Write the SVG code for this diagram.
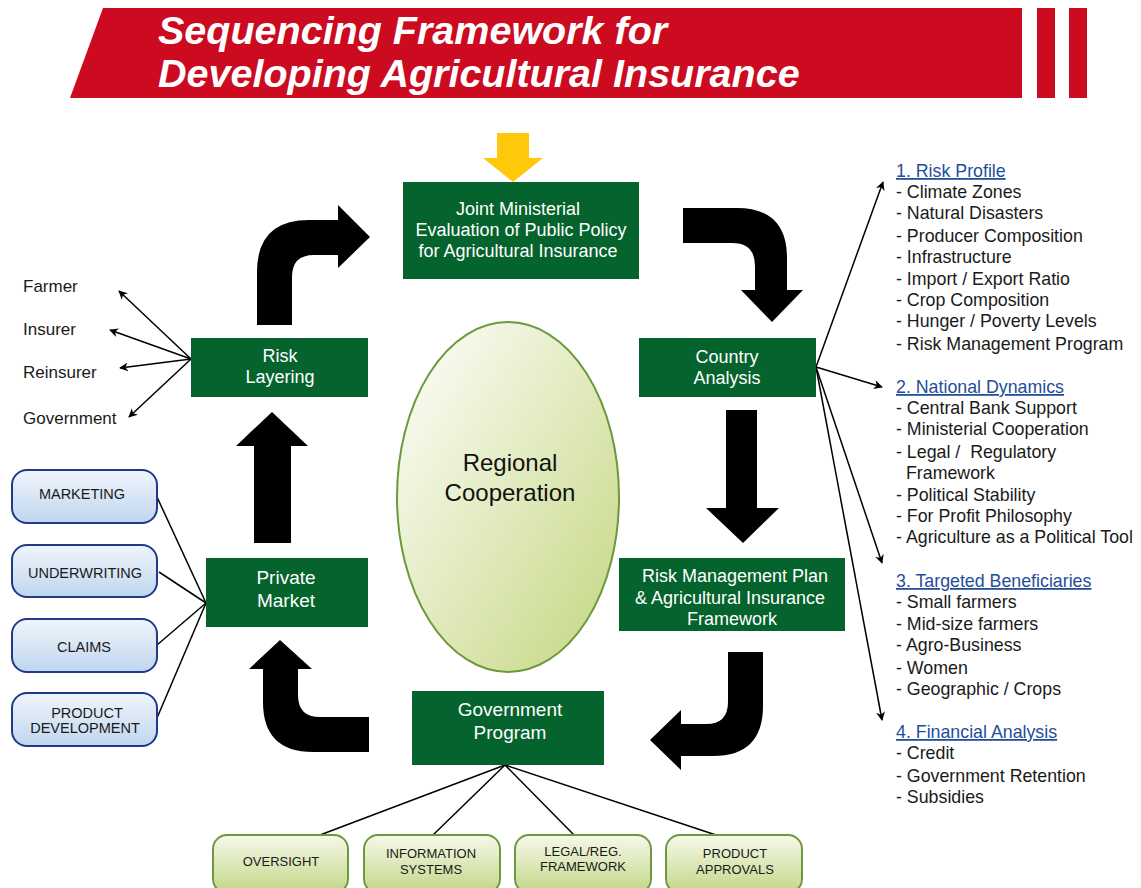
<svg xmlns="http://www.w3.org/2000/svg" width="1141" height="888" viewBox="0 0 1141 888">
<style>
.title{font-family:"Liberation Sans",Arial,sans-serif;font-weight:bold;font-style:italic;font-size:39.5px;fill:#fff}
.box{fill:#05632d}
.bt{font-family:"Liberation Sans",Arial,sans-serif;font-size:18px;fill:#fff;text-anchor:middle}
.lbl{font-family:"Liberation Sans",Arial,sans-serif;font-size:17px;fill:#1a1a1a}
.cap{font-family:"Liberation Sans",Arial,sans-serif;font-size:14.5px;fill:#1a1a1a;text-anchor:middle}
.capg{font-family:"Liberation Sans",Arial,sans-serif;font-size:13px;fill:#1a1a1a;text-anchor:middle}
.li{font-family:"Liberation Sans",Arial,sans-serif;font-size:17.8px;fill:#1a1a1a}
.hd{font-family:"Liberation Sans",Arial,sans-serif;font-size:17.8px;fill:#1f4e9a;text-decoration:underline}
.big{fill:#000}
.ln{stroke:#000;stroke-width:1.5;fill:none}
.bb{fill:url(#gb);stroke:#22398a;stroke-width:2}
.gb{fill:url(#gg);stroke:#6b9a3c;stroke-width:2}
</style>
<defs>
<linearGradient id="ge" x1="0" y1="0" x2="1" y2="1"><stop offset="0" stop-color="#ffffff"/><stop offset="1" stop-color="#c4d67f"/></linearGradient>
<linearGradient id="gb" x1="0" y1="0" x2="0" y2="1"><stop offset="0" stop-color="#f0f5fc"/><stop offset="1" stop-color="#bfd6ee"/></linearGradient>
<linearGradient id="gg" x1="0" y1="0" x2="0" y2="1"><stop offset="0" stop-color="#f6f9ea"/><stop offset="1" stop-color="#c3d687"/></linearGradient>
<marker id="ah" viewBox="0 0 10 10" refX="9" refY="5" markerWidth="9" markerHeight="9" markerUnits="userSpaceOnUse" orient="auto"><path d="M0,0 L10,5 L0,10 L3,5 Z" fill="#000"/></marker>
</defs>

<g id="banner">
<polygon points="103,8 1022,8 1022,98 70,98" fill="#cc0a20"/>
<rect x="1037" y="8" width="18" height="90" fill="#cc0a20"/>
<rect x="1069" y="8" width="18" height="90" fill="#cc0a20"/>
<text class="title" x="158" y="44">Sequencing Framework for</text>
<text class="title" x="158" y="87">Developing Agricultural Insurance</text>
</g>

<g id="flow-arrows">
<polygon points="497,133 529,133 529,158 543,158 513,182 483,158 497,158" fill="#ffc80a"/>
<path class="big" d="M257,325 L257,272 Q257,220 309,220 L338,220 L338,205 L370,237 L338,268 L338,255 L314,255 Q292,255 292,277 L292,325 Z"/>
<path class="big" d="M683,208 L737,208 Q787,208 787,258 L787,290 L803,290 L772,322 L741,290 L755,290 L755,266 Q755,243 732,243 L683,243 Z"/>
<polygon class="big" points="726,410 757,410 757,508 779,508 743,543 706,508 726,508"/>
<path class="big" d="M728,652 L763,652 L763,706 Q763,756 713,756 L681,756 L681,770 L650,740 L681,710 L681,724 L706,724 Q728,724 728,702 Z"/>
<path class="big" d="M369,717 L320,717 Q298,717 298,695 L298,669 L312,669 L280,640 L249,669 L263,669 L263,702 Q263,752 313,752 L369,752 Z"/>
<polygon class="big" points="254,543 291,543 291,446 308,446 272,412 236,446 254,446"/>
</g>

<g id="connectors">
<line class="ln" x1="191" y1="359" x2="119" y2="291" marker-end="url(#ah)"/>
<line class="ln" x1="191" y1="359" x2="110" y2="330" marker-end="url(#ah)"/>
<line class="ln" x1="191" y1="359" x2="120" y2="368" marker-end="url(#ah)"/>
<line class="ln" x1="191" y1="359" x2="129" y2="417" marker-end="url(#ah)"/>
<line class="ln" x1="816" y1="367" x2="883" y2="182" marker-end="url(#ah)"/>
<line class="ln" x1="816" y1="367" x2="882" y2="387" marker-end="url(#ah)"/>
<line class="ln" x1="816" y1="367" x2="882" y2="563" marker-end="url(#ah)"/>
<line class="ln" x1="816" y1="367" x2="882" y2="720" marker-end="url(#ah)"/>
<line class="ln" x1="157" y1="497" x2="206" y2="603"/>
<line class="ln" x1="159" y1="572" x2="206" y2="603"/>
<line class="ln" x1="157" y1="645" x2="206" y2="603"/>
<line class="ln" x1="157" y1="718" x2="206" y2="603"/>
<line class="ln" x1="505" y1="765" x2="320" y2="835"/>
<line class="ln" x1="505" y1="765" x2="433" y2="835"/>
<line class="ln" x1="505" y1="765" x2="574" y2="835"/>
<line class="ln" x1="505" y1="765" x2="716" y2="835"/>
</g>

<g id="joint">
<rect class="box" x="403" y="182" width="236" height="97"/>
<text class="bt" x="518" y="215">Joint Ministerial</text>
<text class="bt" x="521" y="236">Evaluation of Public Policy</text>
<text class="bt" x="518" y="257">for Agricultural Insurance</text>
</g>
<g id="country">
<rect class="box" x="639" y="338" width="177" height="59"/>
<text class="bt" x="727" y="363">Country</text>
<text class="bt" x="727" y="384">Analysis</text>
</g>
<g id="riskplan">
<rect class="box" x="619" y="558" width="226" height="73"/>
<text class="bt" x="735" y="582">Risk Management Plan</text>
<text class="bt" x="730" y="604">&amp; Agricultural Insurance</text>
<text class="bt" x="732" y="625">Framework</text>
</g>
<g id="govprog">
<rect class="box" x="412" y="691" width="192" height="74"/>
<text class="bt" x="510" y="716" style="font-size:19px">Government</text>
<text class="bt" x="510" y="739" style="font-size:19px">Program</text>
</g>
<g id="private">
<rect class="box" x="206" y="558" width="162" height="69"/>
<text class="bt" x="286" y="584" style="font-size:19px">Private</text>
<text class="bt" x="286" y="607" style="font-size:19px">Market</text>
</g>
<g id="risklayer">
<rect class="box" x="191" y="338" width="177" height="59"/>
<text class="bt" x="280" y="362">Risk</text>
<text class="bt" x="280" y="383">Layering</text>
</g>
<g id="regional">
<ellipse cx="508" cy="497" rx="111" ry="175" fill="url(#ge)" stroke="#6b9a3c" stroke-width="2"/>
<text x="510" y="471" style="font-family:'Liberation Sans',Arial,sans-serif;font-size:24px;fill:#111;text-anchor:middle">Regional</text>
<text x="510" y="501" style="font-family:'Liberation Sans',Arial,sans-serif;font-size:24px;fill:#111;text-anchor:middle">Cooperation</text>
</g>

<g id="parties">
<text class="lbl" x="23" y="292">Farmer</text>
<text class="lbl" x="23" y="335">Insurer</text>
<text class="lbl" x="23" y="378">Reinsurer</text>
<text class="lbl" x="23" y="424">Government</text>
</g>

<g id="marketing"><rect class="bb" x="12" y="470" width="145" height="53" rx="15"/><text class="cap" x="82" y="499">MARKETING</text></g>
<g id="underwriting"><rect class="bb" x="12" y="545" width="145" height="52" rx="15"/><text class="cap" x="85" y="578">UNDERWRITING</text></g>
<g id="claims"><rect class="bb" x="12" y="619" width="145" height="53" rx="15"/><text class="cap" x="84" y="652">CLAIMS</text></g>
<g id="productdev"><rect class="bb" x="12" y="693" width="145" height="53" rx="15"/><text class="cap" x="87" y="718">PRODUCT</text><text class="cap" x="85" y="733">DEVELOPMENT</text></g>

<g id="oversight"><rect class="gb" x="213" y="835" width="135" height="58" rx="14"/><text class="capg" x="281" y="866">OVERSIGHT</text></g>
<g id="infosys"><rect class="gb" x="364" y="835" width="136" height="58" rx="14"/><text class="capg" x="431" y="858">INFORMATION</text><text class="capg" x="431" y="874">SYSTEMS</text></g>
<g id="legal"><rect class="gb" x="515" y="835" width="136" height="58" rx="14"/><text class="capg" x="583" y="856">LEGAL/REG.</text><text class="capg" x="583" y="871">FRAMEWORK</text></g>
<g id="approvals"><rect class="gb" x="666" y="835" width="136" height="58" rx="14"/><text class="capg" x="735" y="858">PRODUCT</text><text class="capg" x="735" y="874">APPROVALS</text></g>

<g id="lists">
<text class="hd" x="896" y="177">1. Risk Profile</text>
<text class="li" x="896" y="198">- Climate Zones</text>
<text class="li" x="896" y="219">- Natural Disasters</text>
<text class="li" x="896" y="242">- Producer Composition</text>
<text class="li" x="896" y="263">- Infrastructure</text>
<text class="li" x="896" y="285">- Import / Export Ratio</text>
<text class="li" x="896" y="306">- Crop Composition</text>
<text class="li" x="896" y="327">- Hunger / Poverty Levels</text>
<text class="li" x="896" y="350">- Risk Management Program</text>
<text class="hd" x="896" y="393">2. National Dynamics</text>
<text class="li" x="896" y="414">- Central Bank Support</text>
<text class="li" x="896" y="435">- Ministerial Cooperation</text>
<text class="li" x="896" y="458" xml:space="preserve">- Legal /  Regulatory</text>
<text class="li" x="906" y="479">Framework</text>
<text class="li" x="896" y="501">- Political Stability</text>
<text class="li" x="896" y="522">- For Profit Philosophy</text>
<text class="li" x="896" y="543">- Agriculture as a Political Tool</text>
<text class="hd" x="896" y="587">3. Targeted Beneficiaries</text>
<text class="li" x="896" y="608">- Small farmers</text>
<text class="li" x="896" y="630">- Mid-size farmers</text>
<text class="li" x="896" y="651">- Agro-Business</text>
<text class="li" x="896" y="674">- Women</text>
<text class="li" x="896" y="695">- Geographic / Crops</text>
<text class="hd" x="896" y="738">4. Financial Analysis</text>
<text class="li" x="896" y="759">- Credit</text>
<text class="li" x="896" y="782">- Government Retention</text>
<text class="li" x="896" y="803">- Subsidies</text>
</g>
</svg>
